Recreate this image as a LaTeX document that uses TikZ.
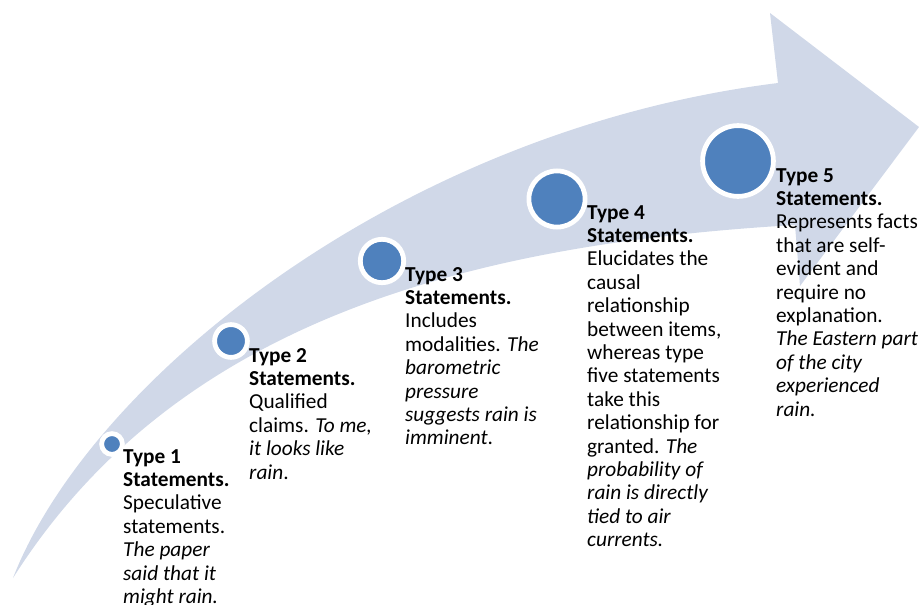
\documentclass[tikz,border=0pt]{standalone}
\usepackage{fontspec}
\setmainfont{Carlito}
\usepackage{tikz}
\definecolor{arrowfill}{RGB}{208,216,232}
\definecolor{dotblue}{RGB}{79,129,189}
\tikzset{
  dot/.style={circle, fill=dotblue, draw=white, line width=4.8pt, inner sep=0pt},
  stmt/.style={anchor=north west, inner sep=0pt, align=left,
    font=\fontsize{21.3}{23.4}\selectfont}
}

\begin{document}
\begin{tikzpicture}[x=1pt, y=-1pt]
		%%%%% START %%%%%
		\useasboundingbox (0, 0) rectangle (919, 605);
		
		% curved arrow
		\fill[arrowfill] (13, 578) .. controls (90, 380) and (400, 130) .. (778, 83)
		  -- (770, 13) -- (919, 127) -- (800, 286) -- (795, 225)
		  .. controls (450, 245) and (170, 330) .. (13, 578) -- cycle;
		
		% dots
		\node[dot, minimum size=20.8pt] (d1) at (112, 444) {};
		\node[dot, minimum size=32.8pt] (d2) at (231, 341) {};
		\node[dot, minimum size=43.4pt] (d3) at (382, 261) {};
		\node[dot, minimum size=56.2pt] (d4) at (557, 199) {};
		\node[dot, minimum size=70.8pt] (d5) at (738, 161) {};
		
		% statements
		\node[stmt] (t1) at (123, 449) {\textbf{Type 1}\\\textbf{Statements.}\\Speculative\\statements.\\\textit{The paper}\\\textit{said that it}\\\textit{might rain.}};
		\node[stmt] (t2) at (249, 348) {\textbf{Type 2}\\\textbf{Statements.}\\Qualified\\claims. \textit{To me,}\\\textit{it looks like}\\\textit{rain}.};
		\node[stmt] (t3) at (405, 267) {\textbf{Type 3}\\\textbf{Statements.}\\Includes\\modalities. \textit{The}\\\textit{barometric}\\\textit{pressure}\\\textit{suggests rain is}\\\textit{imminent}.};
		\node[stmt] (t4) at (587, 205) {\textbf{Type 4}\\\textbf{Statements.}\\Elucidates the\\causal\\relationship\\between items,\\whereas type\\five statements\\take this\\relationship for\\granted. \textit{The}\\\textit{probability of}\\\textit{rain is directly}\\\textit{tied to air}\\\textit{currents.}};
		\node[stmt] (t5) at (776, 168) {\textbf{Type 5}\\\textbf{Statements.}\\Represents facts\\that are self-\\evident and\\require no\\explanation.\\\textit{The Eastern part}\\\textit{of the city}\\\textit{experienced}\\\textit{rain.}};
		
		%%%%% END %%%%%
\end{tikzpicture}
\end{document}
